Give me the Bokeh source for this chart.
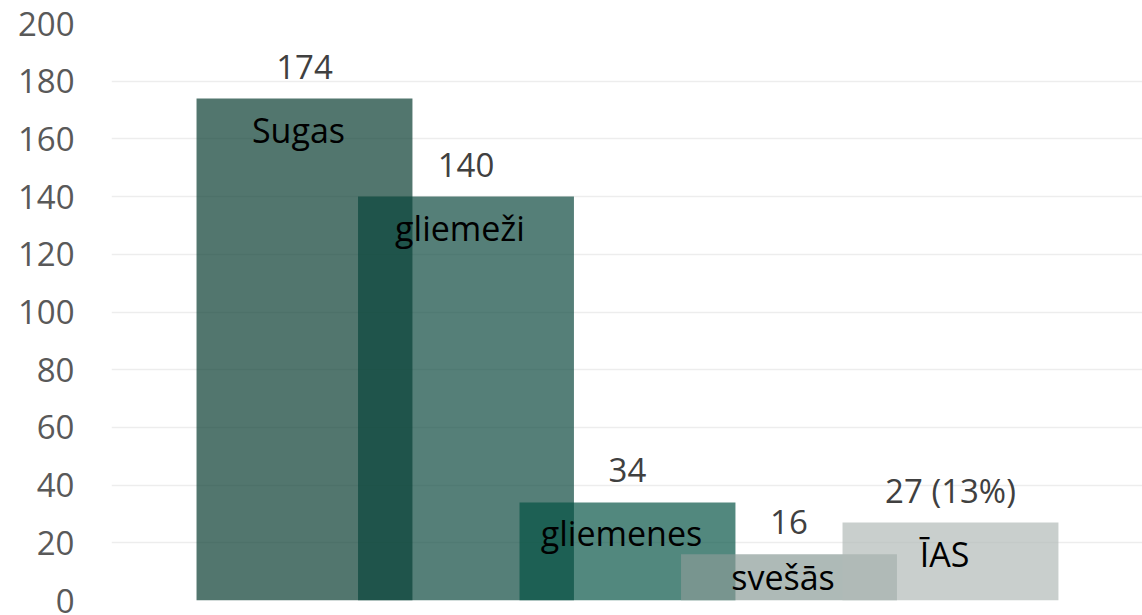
from bokeh.plotting import figure
from bokeh.models import Range1d, FixedTicker, ColumnDataSource
from bokeh.core.properties import value
from bokeh.embed import file_html
from bokeh.resources import INLINE

# ---- data ----
categories = ["Sugas", "gliemeži", "gliemenes", "svešās", "ĪAS"]
counts = [174, 140, 34, 16, 27]
value_labels = ["174", "140", "34", "16", "27 (13%)"]
y_ticks = [0, 20, 40, 60, 80, 100, 120, 140, 160, 180, 200]
bar_colors = ["#04392D", "#09463B", "#055344", "#8A9B96", "#B1BAB7"]

# ---- layout ----
W, H = 1142, 615
LEFT, TOP, BOTTOM = 111, 23, 15
frame_h = H - TOP - BOTTOM
px_per_unit = frame_h / 200.0

idx = list(range(len(categories)))
cat_offsets = [min(31.0, c * px_per_unit / 2.0) for c in counts]

src = ColumnDataSource(dict(x=idx, top=counts, color=bar_colors, cat=categories,
                            vlab=value_labels, coff=cat_offsets))

p = figure(width=W, height=H, output_backend="svg", toolbar_location=None,
           x_range=Range1d(-1.195, 5.189), y_range=Range1d(0, 200),
           x_axis_location=None,
           min_border_left=LEFT, min_border_right=0,
           min_border_top=TOP, min_border_bottom=BOTTOM)
p.outline_line_color = None
p.background_fill_color = "white"
p.border_fill_color = "white"

p.vbar(x="x", top="top", bottom=0, width=1.337, source=src,
       fill_color="color", fill_alpha=0.69, line_color=None)

p.text(x="x", y="top", text="vlab", source=src, text_align="center",
       text_baseline="middle", y_offset=-32, text_font=value("Open Sans"),
       text_font_size="33px", text_color="#404040")

p.text(x="x", y="top", text="cat", source=src, text_align="center",
       text_baseline="middle", y_offset="coff", x_offset=-6,
       text_font=value("Open Sans"), text_font_size="34px", text_color="#000000")

ax = p.yaxis[0]
ax.ticker = FixedTicker(ticks=y_ticks)
ax.axis_line_color = None
ax.major_tick_line_color = None
ax.minor_tick_line_color = None
ax.major_tick_out = 0
ax.major_label_standoff = 37
ax.major_label_text_font = "Open Sans"
ax.major_label_text_font_size = "33px"
ax.major_label_text_color = "#595959"

p.ygrid.grid_line_color = "#EDEDED"
p.ygrid.grid_line_width = 1.5
p.xgrid.visible = False

open("out.html", "w").write(file_html(p, INLINE))
